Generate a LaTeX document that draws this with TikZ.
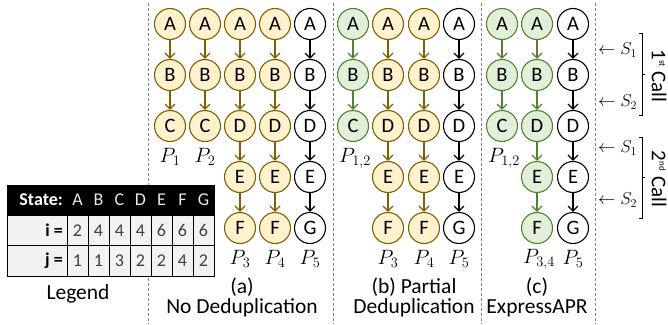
\documentclass[tikz,border=0pt]{standalone}
\usepackage{fontspec}
\setmainfont{Carlito}
\usetikzlibrary{arrows.meta}
\definecolor{yfillc}{HTML}{FFF2CC}
\definecolor{ydrawc}{HTML}{7F6000}
\definecolor{gfillc}{HTML}{E2F0D9}
\definecolor{gdrawc}{HTML}{548235}
\definecolor{tabfill}{HTML}{F2F2F2}
\definecolor{numc}{HTML}{404040}
\definecolor{hdrc}{HTML}{E8E8E8}
\tikzset{
  st/.style={circle,draw,line width=1.1pt,minimum size=31pt,inner sep=0pt,font=\fontsize{20.5}{20.5}\selectfont},
  yel/.style={fill=yfillc,draw=ydrawc},
  grn/.style={fill=gfillc,draw=gdrawc},
  wht/.style={fill=white,draw=black},
  arr/.style={line width=1.3pt,-{Straight Barb[length=5pt,width=10pt]}},
  yelarr/.style={draw=ydrawc},
  grnarr/.style={draw=gdrawc},
  whtarr/.style={draw=black},
  plab/.style={inner sep=0pt,font=\fontsize{20}{20}\selectfont},
  captext/.style={inner sep=0pt,font=\fontsize{21.5}{20}\selectfont,align=center},
  sep/.style={draw=gray,densely dashed,line width=0.5pt},
  hdr/.style={inner sep=0pt,font=\fontsize{18}{18}\selectfont,text=hdrc},
  num/.style={inner sep=0pt,font=\fontsize{18}{18}\selectfont,text=numc},
  rowlab/.style={inner sep=0pt,anchor=east,font=\fontsize{18}{18}\selectfont\bfseries},
  slab/.style={inner sep=0pt,anchor=west,font=\fontsize{18}{18}\selectfont},
  brk/.style={draw=black,line width=0.8pt},
  calllab/.style={inner sep=0pt,rotate=-90,font=\fontsize{21}{21}\selectfont}
}
\newcommand\mkcol[4]{%
  \foreach \L [count=\k] in {#4} {
    \node[st,#3] (#1-\k) at (#2,{24+51*(\k-1)}) {\L};
  }
  \foreach \L [count=\k] in {#4} {
    \ifnum\k>1
      \pgfmathtruncatemacro\pk{\k-1}
      \draw[arr,#3arr] (#1-\pk) -- (#1-\k);
    \fi
  }
}
\begin{document}
\begin{tikzpicture}[x=1pt,y=-1pt]
\useasboundingbox (0,0) rectangle (668,324);
% separators
\draw[sep] (148,3) coordinate (s1a) -- (148,324) coordinate (s1b);
\draw[sep] (333,3) coordinate (s2a) -- (333,324) coordinate (s2b);
\draw[sep] (481,3) coordinate (s3a) -- (481,324) coordinate (s3b);
\draw[sep] (595,3) coordinate (s4a) -- (595,324) coordinate (s4b);
% panel a
\mkcol{a1}{170}{yel}{A,B,C}
\mkcol{a2}{205}{yel}{A,B,C}
\mkcol{a3}{240}{yel}{A,B,D,E,F}
\mkcol{a4}{275}{yel}{A,B,D,E,F}
\mkcol{a5}{310}{wht}{A,B,D,E,G}
\node[plab] (pa1) at (170,157) {$P_1$};
\node[plab] (pa2) at (205,157) {$P_2$};
\node[plab] (pa3) at (240,259) {$P_3$};
\node[plab] (pa4) at (275,259) {$P_4$};
\node[plab] (pa5) at (310,259) {$P_5$};
\node[captext] (capa) at (242,297) {(a)\\No Deduplication};
% panel b
\mkcol{b1}{353}{grn}{A,B,C}
\mkcol{b2}{388}{yel}{A,B,D,E,F}
\mkcol{b3}{424}{yel}{A,B,D,E,F}
\mkcol{b4}{459}{wht}{A,B,D,E,G}
\node[plab] (pb1) at (355,158) {$P_{1,2}$};
\node[plab] (pb2) at (388,259) {$P_3$};
\node[plab] (pb3) at (424,259) {$P_4$};
\node[plab] (pb4) at (459,259) {$P_5$};
\node[captext] (capb) at (414,297) {(b) Partial\\Deduplication};
% panel c
\mkcol{c1}{502}{grn}{A,B,C}
\mkcol{c2}{537}{grn}{A,B,D,E,F}
\mkcol{c3}{573}{wht}{A,B,D,E,G}
\node[plab] (pc1) at (504,158) {$P_{1,2}$};
\node[plab] (pc2) at (539,259) {$P_{3,4}$};
\node[plab] (pc3) at (573,259) {$P_5$};
\node[captext] (capc) at (537,297) {(c)\\ExpressAPR};
% right labels
\node[slab] (r1) at (598,50) {$\leftarrow S_1$};
\node[slab] (r2) at (598,102) {$\leftarrow S_2$};
\node[slab] (r3) at (598,148) {$\leftarrow S_1$};
\node[slab] (r4) at (598,200) {$\leftarrow S_2$};
\draw[brk] (639,33) -- (642,33) -- (642,115) -- (639,115);
\draw[brk] (642,74) -- (645,74);
\draw[brk] (639,137) -- (642,137) -- (642,218) -- (639,218);
\draw[brk] (642,177) -- (645,177);
\node[calllab] (call1) at (659,76) {1\textsuperscript{\fontsize{9}{9}\selectfont st} Call};
\node[calllab] (call2) at (659,179) {2\textsuperscript{\fontsize{9}{9}\selectfont nd} Call};
% legend table
\fill[black] (7,185) rectangle (214,215);
\fill[tabfill] (7,215) rectangle (214,276);
\draw[line width=0.6pt] (7,185) rectangle (214,276);
\draw[line width=0.6pt] (7,215) -- (214,215);
\draw[line width=0.6pt] (7,245.5) -- (214,245.5);
\foreach \c in {0,...,6} {
  \draw[line width=0.6pt] ({67+21*\c},215) -- ({67+21*\c},276);
}
\node[rowlab,text=white] (tstate) at (63,200) {State:};
\node[rowlab] (ti) at (63,230.5) {i =};
\node[rowlab] (tj) at (63,261) {j =};
\foreach \L [count=\k] in {A,B,C,D,E,F,G} {
  \node[hdr] (h\k) at ({67+21*(\k-1)+10.5},200) {\L};
}
\foreach \v [count=\k] in {2,4,4,4,6,6,6} {
  \node[num] (ri\k) at ({67+21*(\k-1)+10.5},230.5) {\v};
}
\foreach \v [count=\k] in {1,1,3,2,2,4,2} {
  \node[num] (rj\k) at ({67+21*(\k-1)+10.5},261) {\v};
}
\node[captext] (legend) at (78,294) {Legend};
\end{tikzpicture}
\end{document}
